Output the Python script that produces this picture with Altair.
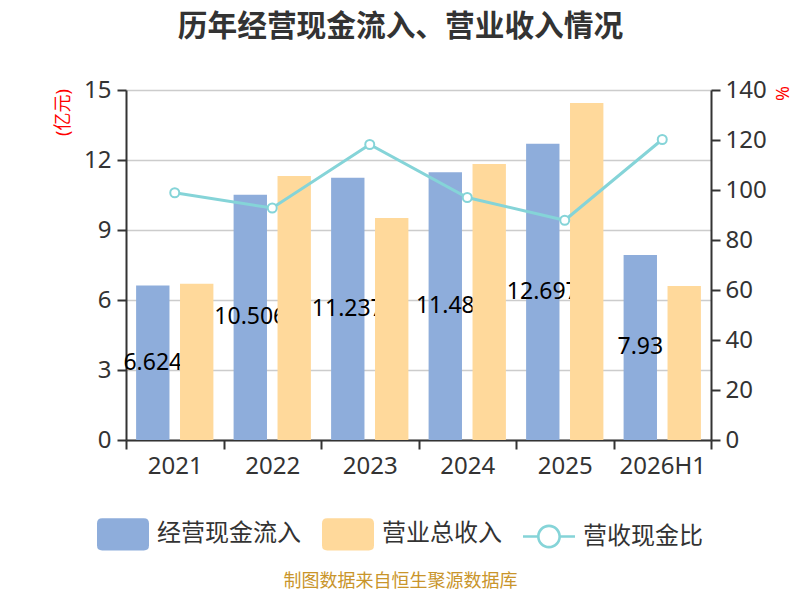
import altair as alt
import pandas as pd

# ---- data ----
years = ["2021", "2022", "2023", "2024", "2025", "2026H1"]
cash_inflow = [6.624, 10.506, 11.237, 11.48, 12.697, 7.93]      # 经营现金流入 (亿元)
revenue = [6.70, 11.31, 9.51, 11.83, 14.44, 6.60]               # 营业总收入 (亿元)
ratio = [98.9, 92.8, 118.2, 97.0, 87.9, 120.2]                  # 营收现金比 (%)
cash_labels = ["6.624", "10.506", "11.237", "11.48", "12.697", "7.93"]
series = ["经营现金流入", "营业总收入", "营收现金比"]
colors = ["#8EADDB", "#FFD99B", "#85D4D8"]

F = "Noto Sans, Noto Sans CJK SC, sans-serif"
TEXT = "#333333"

df = pd.DataFrame({"year": years, "cash": cash_inflow, "rev": revenue,
                   "ratio": ratio, "label": cash_labels})
legend_df = pd.DataFrame({"series": series})

x_enc = alt.X(
    "year:N", sort=years,
    scale=alt.Scale(domain=years, paddingInner=0, paddingOuter=0),
    axis=alt.Axis(
        title="制图数据来自恒生聚源数据库", titleColor="#C9952B", titleFontSize=18,
        titleFontWeight="normal", titleFont=F, titleX=274, titleY=141,
        titleAlign="center", titleBaseline="middle",
        labelAngle=0, labelFontSize=24, labelColor=TEXT, labelFont=F, labelPadding=5,
        tickBand="extent", tickSize=9, tickWidth=2, tickColor=TEXT,
        domainColor=TEXT, domainWidth=2, grid=False),
)
xo_scale = alt.Scale(domain=series[:2], paddingInner=0.24, paddingOuter=0.23)

y_left_scale = alt.Scale(domain=[0, 15], nice=False, zero=True)
y_left_axis = alt.Axis(
    orient="left", title="(亿元)", titleColor="red", titleFontSize=18, titleFont=F,
    titleFontWeight="normal", titleAngle=270, titleX=-63, titleY=22,
    titleAlign="center", titleBaseline="middle",
    values=[0, 3, 6, 9, 12, 15], labelFontSize=24, labelColor=TEXT, labelFont=F,
    labelPadding=6, tickSize=9, tickWidth=2, tickColor=TEXT,
    domainColor=TEXT, domainWidth=2, gridColor="#cccccc", gridWidth=1.5)

y_right_scale = alt.Scale(domain=[0, 140], nice=False, zero=True)
y_right_axis = alt.Axis(
    orient="right", title="%", titleColor="red", titleFontSize=18, titleFont=F,
    titleFontWeight="normal", titleAngle=90, titleX=69, titleY=3,
    titleAlign="center", titleBaseline="middle",
    values=[0, 20, 40, 60, 80, 100, 120, 140], labelFontSize=24, labelColor=TEXT,
    labelFont=F, labelPadding=5, tickSize=9, tickWidth=2, tickColor=TEXT,
    domainColor=TEXT, domainWidth=2, grid=False)

# legend symbols: rounded rects for bars, line-with-ring for the ratio
P_RECT = ("M-0.8,-0.62L0.8,-0.62Q1,-0.62,1,-0.42L1,0.42Q1,0.62,0.8,0.62"
          "L-0.8,0.62Q-1,0.62,-1,0.42L-1,-0.42Q-1,-0.62,-0.8,-0.62Z")
P_LINE = ("M-1,-0.05L-0.44,-0.05L-0.44,0.05L-1,0.05Z"
          "M0.44,-0.05L1,-0.05L1,0.05L0.44,0.05Z"
          "M0.46,0A0.46,0.46,0,1,1,-0.46,0A0.46,0.46,0,1,1,0.46,0Z"
          "M0.36,0A0.36,0.36,0,1,0,-0.36,0A0.36,0.36,0,1,0,0.36,0Z")
legend = alt.Legend(
    title=None, orient="none", legendX=-29, legendY=418, direction="horizontal",
    labelFontSize=24, labelColor=TEXT, labelFont=F, symbolSize=2704,
    symbolOpacity=1, symbolStrokeWidth=0,
    labelOffset=8, columnPadding=21, padding=0, labelLimit=300,
)

base = alt.Chart(df)

legend_layer = alt.Chart(legend_df).mark_point(filled=True, opacity=0, strokeWidth=0).encode(
    color=alt.Color("series:N", scale=alt.Scale(domain=series, range=colors), legend=legend),
    shape=alt.Shape("series:N", scale=alt.Scale(domain=series, range=[P_RECT, P_RECT, P_LINE]),
                    legend=legend),
)

blue = base.transform_calculate(series=f"'{series[0]}'").mark_bar(color=colors[0]).encode(
    x=x_enc,
    xOffset=alt.XOffset("series:N", scale=xo_scale),
    y=alt.Y("cash:Q", scale=y_left_scale, axis=y_left_axis),
)

labels = base.transform_calculate(series=f"'{series[0]}'", half="datum.cash / 2").mark_text(
    fontSize=23, font=F, color="#000000", align="center", baseline="middle"
).encode(
    x=x_enc,
    xOffset=alt.XOffset("series:N", scale=xo_scale),
    y=alt.Y("half:Q", scale=y_left_scale, axis=y_left_axis),
    text="label:N",
)

orange = base.transform_calculate(series=f"'{series[1]}'").mark_bar(color=colors[1]).encode(
    x=x_enc,
    xOffset=alt.XOffset("series:N", scale=xo_scale),
    y=alt.Y("rev:Q", scale=y_left_scale, axis=y_left_axis),
)

bars = alt.layer(blue, labels, orange, legend_layer)

line = base.mark_line(color=colors[2], strokeWidth=3).encode(
    x=x_enc,
    y=alt.Y("ratio:Q", scale=y_right_scale, axis=y_right_axis),
)
points = base.mark_point(filled=True, fill="#ffffff", stroke=colors[2], strokeWidth=2,
                         size=81, opacity=1).encode(
    x=x_enc,
    y=alt.Y("ratio:Q", scale=y_right_scale, axis=y_right_axis),
)
ratio_layer = alt.layer(line, points)

chart = alt.layer(bars, ratio_layer).resolve_scale(y="independent").properties(
    width=585, height=350,
    title=alt.Title("历年经营现金流入、营业收入情况", fontSize=29.7, font=F, fontWeight="bold",
                    color=TEXT, anchor="middle", frame="group", dx=-18, offset=35),
    autosize=alt.AutoSizeParams(type="none"),
    padding={"left": 118, "top": 82, "right": 81, "bottom": 150},
).configure(font=F).configure_view(stroke=None)

chart.save("out.html", embed_options={"renderer": "svg", "actions": False})
